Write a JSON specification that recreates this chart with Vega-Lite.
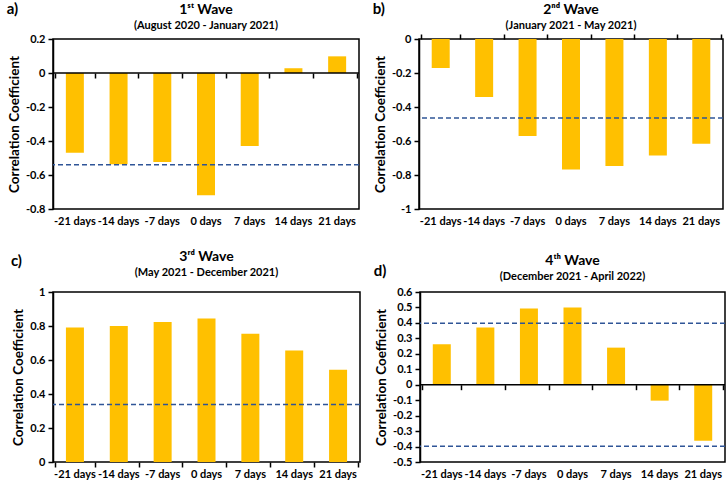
{
  "$schema": "https://vega.github.io/schema/vega-lite/v6.json",
  "background": "white",
  "padding": {"left": 6, "top": 2, "right": 1, "bottom": 0},
  "config": {
    "font": "Lato",
    "view": {"stroke": "black", "strokeWidth": 1.5},
    "title": {"fontSize": 14, "fontWeight": "bold", "color": "black", "subtitleFontSize": 11, "subtitleFontWeight": "bold", "subtitleColor": "black", "subtitlePadding": 3, "offset": 2},
    "axis": {"grid": false, "domainColor": "black", "domainWidth": 1.5, "tickColor": "black", "tickWidth": 1.5, "tickSize": 5, "labelColor": "black", "labelFontWeight": "bold", "labelFontSize": 11, "titleFontSize": 13.5, "titleFontWeight": "bold", "titleColor": "black"},
    "axisX": {"labelAngle": 0, "labelPadding": 6},
    "axisY": {"titlePadding": 4, "labelPadding": 3, "labelExpr": "replace(format(datum.value, '.1~f'), '\u2212', '-')"},
    "concat": {"spacing": 11}
  },
  "datasets": {
    "bars": [
      {"wave": 1, "lag": "-21 days", "r": -0.469},
      {"wave": 1, "lag": "-14 days", "r": -0.537},
      {"wave": 1, "lag": "-7 days", "r": -0.524},
      {"wave": 1, "lag": "0 days", "r": -0.719},
      {"wave": 1, "lag": "7 days", "r": -0.429},
      {"wave": 1, "lag": "14 days", "r": 0.028},
      {"wave": 1, "lag": "21 days", "r": 0.098},
      {"wave": 2, "lag": "-21 days", "r": -0.171},
      {"wave": 2, "lag": "-14 days", "r": -0.341},
      {"wave": 2, "lag": "-7 days", "r": -0.571},
      {"wave": 2, "lag": "0 days", "r": -0.767},
      {"wave": 2, "lag": "7 days", "r": -0.747},
      {"wave": 2, "lag": "14 days", "r": -0.686},
      {"wave": 2, "lag": "21 days", "r": -0.616},
      {"wave": 3, "lag": "-21 days", "r": 0.791},
      {"wave": 3, "lag": "-14 days", "r": 0.8},
      {"wave": 3, "lag": "-7 days", "r": 0.824},
      {"wave": 3, "lag": "0 days", "r": 0.844},
      {"wave": 3, "lag": "7 days", "r": 0.754},
      {"wave": 3, "lag": "14 days", "r": 0.656},
      {"wave": 3, "lag": "21 days", "r": 0.543},
      {"wave": 4, "lag": "-21 days", "r": 0.262},
      {"wave": 4, "lag": "-14 days", "r": 0.37},
      {"wave": 4, "lag": "-7 days", "r": 0.493},
      {"wave": 4, "lag": "0 days", "r": 0.5},
      {"wave": 4, "lag": "7 days", "r": 0.24},
      {"wave": 4, "lag": "14 days", "r": -0.103},
      {"wave": 4, "lag": "21 days", "r": -0.363}
    ],
    "thr": [
      {"wave": 1, "r": -0.539},
      {"wave": 2, "r": -0.465},
      {"wave": 3, "r": 0.338},
      {"wave": 4, "r": 0.398},
      {"wave": 4, "r": -0.398}
    ]
  },
  "spacing": 22,
  "vconcat": [
    {"hconcat": [
      {
        "title": {"text": "a)", "anchor": "start", "frame": "bounds", "offset": -15, "fontSize": 15},
        "vconcat": [{
          "width": 306, "height": 170,
          "view": {"stroke": "black", "strokeWidth": 1.5},
          "title": {"text": "1ˢᵗ Wave", "subtitle": "(August 2020 - January 2021)"},
          "resolve": {"axis": {"x": "independent", "y": "independent"}},
          "layer": [
            {"data": {"name": "bars"}, "transform": [{"filter": "datum.wave == 1"}],
             "mark": {"type": "bar", "color": "#FFC000", "size": 18},
             "encoding": {
               "x": {"field": "lag", "type": "nominal", "sort": ["-21 days", "-14 days", "-7 days", "0 days", "7 days", "14 days", "21 days"], "axis": {"title": null, "ticks": false, "domain": false, "orient": "bottom"}},
               "y": {"field": "r", "type": "quantitative", "scale": {"domain": [-0.8, 0.2], "nice": false, "zero": false}, "axis": {"title": "Correlation Coefficient", "orient": "left", "values": [-0.8, -0.6, -0.4, -0.2, 0, 0.2]}}
             }},
            {"data": {"name": "bars"}, "transform": [{"filter": "datum.wave == 1"}],
             "mark": {"type": "bar", "opacity": 0},
             "encoding": {
               "x": {"field": "lag", "type": "nominal", "sort": ["-21 days", "-14 days", "-7 days", "0 days", "7 days", "14 days", "21 days"], "axis": {"title": null, "labels": false, "domain": false, "ticks": true, "tickBand": "extent", "orient": "bottom", "offset": -136}},
               "y": {"field": "r", "type": "quantitative", "scale": {"domain": [-0.8, 0.2], "nice": false, "zero": false}, "axis": null}
             }},
            {"data": {"values": [{}]}, "mark": {"type": "rule", "color": "black", "strokeWidth": 1.5},
             "encoding": {"y": {"datum": 0, "axis": null}}},
            {"data": {"name": "thr"}, "transform": [{"filter": "datum.wave == 1"}],
             "mark": {"type": "rule", "color": "#2F5597", "strokeDash": [5, 3], "strokeWidth": 1.5},
             "encoding": {"y": {"field": "r", "type": "quantitative", "axis": null}}}
          ]
        }]
      },
      {
        "title": {"text": "b)", "anchor": "start", "frame": "bounds", "offset": -15, "fontSize": 15},
        "vconcat": [{
          "width": 304, "height": 170,
          "view": {"stroke": "black", "strokeWidth": 1.5},
          "title": {"text": "2ⁿᵈ Wave", "subtitle": "(January 2021 - May 2021)"},
          "resolve": {"axis": {"x": "independent", "y": "independent"}},
          "layer": [
            {"data": {"name": "bars"}, "transform": [{"filter": "datum.wave == 2"}],
             "mark": {"type": "bar", "color": "#FFC000", "size": 18},
             "encoding": {
               "x": {"field": "lag", "type": "nominal", "sort": ["-21 days", "-14 days", "-7 days", "0 days", "7 days", "14 days", "21 days"], "axis": {"title": null, "ticks": false, "domain": false, "orient": "bottom"}},
               "y": {"field": "r", "type": "quantitative", "scale": {"domain": [-1, 0], "nice": false, "zero": false}, "axis": {"title": "Correlation Coefficient", "orient": "left", "values": [-1, -0.8, -0.6, -0.4, -0.2, 0]}}
             }},
            {"data": {"name": "bars"}, "transform": [{"filter": "datum.wave == 2"}],
             "mark": {"type": "bar", "opacity": 0},
             "encoding": {
               "x": {"field": "lag", "type": "nominal", "sort": ["-21 days", "-14 days", "-7 days", "0 days", "7 days", "14 days", "21 days"], "axis": {"title": null, "labels": false, "domain": false, "ticks": true, "tickBand": "extent", "orient": "top", "offset": 0}},
               "y": {"field": "r", "type": "quantitative", "scale": {"domain": [-1, 0], "nice": false, "zero": false}, "axis": null}
             }},
            {"data": {"name": "thr"}, "transform": [{"filter": "datum.wave == 2"}],
             "mark": {"type": "rule", "color": "#2F5597", "strokeDash": [5, 3], "strokeWidth": 1.5},
             "encoding": {"y": {"field": "r", "type": "quantitative", "axis": null}}}
          ]
        }]
      }
    ]},
    {"hconcat": [
      {
        "title": {"text": "c)", "anchor": "start", "frame": "bounds", "offset": -20, "fontSize": 15},
        "vconcat": [{
          "width": 307, "height": 170,
          "view": {"stroke": "black", "strokeWidth": 1.5},
          "title": {"text": "3ʳᵈ Wave", "subtitle": "(May 2021 - December 2021)", "offset": 8},
          "resolve": {"axis": {"x": "independent", "y": "independent"}},
          "layer": [
            {"data": {"name": "bars"}, "transform": [{"filter": "datum.wave == 3"}],
             "mark": {"type": "bar", "color": "#FFC000", "size": 18},
             "encoding": {
               "x": {"field": "lag", "type": "nominal", "sort": ["-21 days", "-14 days", "-7 days", "0 days", "7 days", "14 days", "21 days"], "axis": {"title": null, "ticks": false, "domain": false, "orient": "bottom"}},
               "y": {"field": "r", "type": "quantitative", "scale": {"domain": [0, 1], "nice": false, "zero": false}, "axis": {"title": "Correlation Coefficient", "orient": "left", "values": [0, 0.2, 0.4, 0.6, 0.8, 1]}}
             }},
            {"data": {"name": "bars"}, "transform": [{"filter": "datum.wave == 3"}],
             "mark": {"type": "bar", "opacity": 0},
             "encoding": {
               "x": {"field": "lag", "type": "nominal", "sort": ["-21 days", "-14 days", "-7 days", "0 days", "7 days", "14 days", "21 days"], "axis": {"title": null, "labels": false, "domain": false, "ticks": true, "tickBand": "extent", "orient": "bottom", "offset": 0}},
               "y": {"field": "r", "type": "quantitative", "scale": {"domain": [0, 1], "nice": false, "zero": false}, "axis": null}
             }},
            {"data": {"name": "thr"}, "transform": [{"filter": "datum.wave == 3"}],
             "mark": {"type": "rule", "color": "#2F5597", "strokeDash": [5, 3], "strokeWidth": 1.5},
             "encoding": {"y": {"field": "r", "type": "quantitative", "axis": null}}}
          ]
        }]
      },
      {
        "title": {"text": "d)", "anchor": "start", "frame": "bounds", "offset": -26, "fontSize": 15},
        "vconcat": [{
          "width": 305, "height": 170,
          "view": {"stroke": "black", "strokeWidth": 1.5},
          "title": {"text": "4ᵗʰ Wave", "subtitle": "(December 2021 - April 2022)", "offset": 4},
          "resolve": {"axis": {"x": "independent", "y": "independent"}},
          "layer": [
            {"data": {"name": "bars"}, "transform": [{"filter": "datum.wave == 4"}],
             "mark": {"type": "bar", "color": "#FFC000", "size": 18},
             "encoding": {
               "x": {"field": "lag", "type": "nominal", "sort": ["-21 days", "-14 days", "-7 days", "0 days", "7 days", "14 days", "21 days"], "axis": {"title": null, "ticks": false, "domain": false, "orient": "bottom"}},
               "y": {"field": "r", "type": "quantitative", "scale": {"domain": [-0.5, 0.6], "nice": false, "zero": false}, "axis": {"title": "Correlation Coefficient", "orient": "left", "values": [-0.5, -0.4, -0.3, -0.2, -0.1, 0, 0.1, 0.2, 0.3, 0.4, 0.5, 0.6]}}
             }},
            {"data": {"name": "bars"}, "transform": [{"filter": "datum.wave == 4"}],
             "mark": {"type": "bar", "opacity": 0},
             "encoding": {
               "x": {"field": "lag", "type": "nominal", "sort": ["-21 days", "-14 days", "-7 days", "0 days", "7 days", "14 days", "21 days"], "axis": {"title": null, "labels": false, "domain": false, "ticks": true, "tickBand": "extent", "orient": "bottom", "offset": -77.3}},
               "y": {"field": "r", "type": "quantitative", "scale": {"domain": [-0.5, 0.6], "nice": false, "zero": false}, "axis": null}
             }},
            {"data": {"values": [{}]}, "mark": {"type": "rule", "color": "black", "strokeWidth": 1.5},
             "encoding": {"y": {"datum": 0, "axis": null}}},
            {"data": {"name": "thr"}, "transform": [{"filter": "datum.wave == 4"}],
             "mark": {"type": "rule", "color": "#2F5597", "strokeDash": [5, 3], "strokeWidth": 1.5},
             "encoding": {"y": {"field": "r", "type": "quantitative", "axis": null}}}
          ]
        }]
      }
    ]}
  ]
}
